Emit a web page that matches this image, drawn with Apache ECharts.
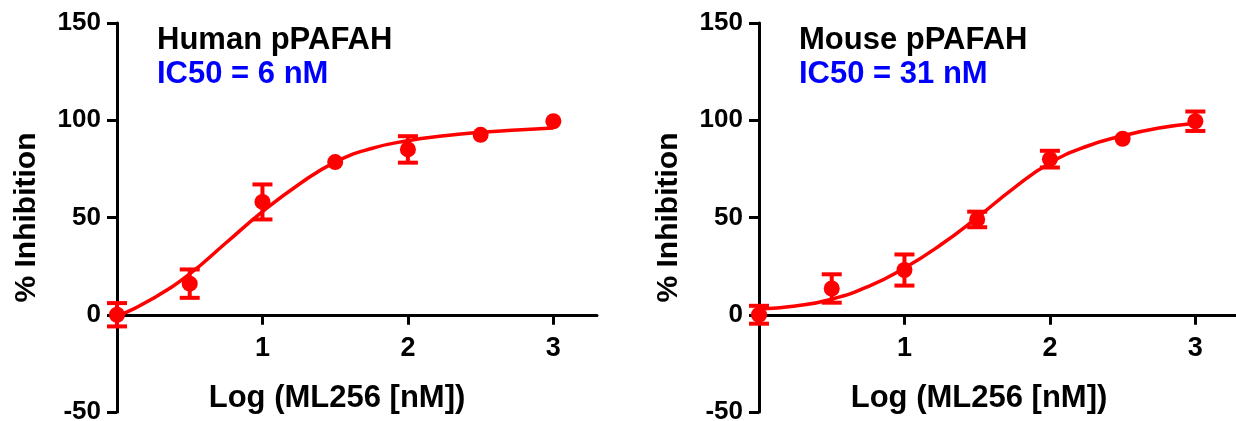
<!DOCTYPE html>
<html>
<head>
<meta charset="utf-8">
<script src="https://cdn.jsdelivr.net/npm/echarts@6/dist/echarts.min.js"></script>
<style>
html,body{margin:0;padding:0;background:#fff;}
#chart{width:1236px;height:421px;}
</style>
</head>
<body>
<div id="chart"></div>
<script>
// ---- data ----
const doseLog = [0, 0.5, 1, 1.5, 2, 2.5, 3];
const humanMean = [0, 16, 58, 78.5, 85, 92.5, 99.5];
const humanErr  = [6, 7.3, 9, 0, 6.8, 0, 0];
const mouseMean = [0, 13.5, 23, 49, 80, 90.5, 99.5];
const mouseErr  = [4.6, 7.3, 8, 4, 4.3, 0, 5];

const curveX     = [0, 0.25, 0.5, 0.75, 1, 1.25, 1.5, 1.75, 2, 2.25, 2.5, 2.75, 3];
const humanCurve = [-1, 8.5, 21, 37, 53, 67, 78.5, 85.5, 89.5, 92, 93.8, 95, 96];
const mouseCurve = [3, 4.5, 8, 14.5, 24, 36, 50, 65, 78, 86.5, 92, 96, 98.5];

const yTicks = [-50, 0, 50, 100, 150];
const xTicks = [1, 2, 3];

const panelTitles = ['Human pPAFAH', 'Mouse pPAFAH'];
const panelIC50 = ['IC50 = 6 nM', 'IC50 = 31 nM'];
const xName = 'Log (ML256 [nM])';
const yName = '% Inhibition';

// ---- chart ----
const RED = '#ff0000';
const FONT = '"Liberation Sans", Arial, sans-serif';
const chart = echarts.init(document.getElementById('chart'), null, {renderer: 'canvas'});

function errorRender(params, api) {
  const x = api.value(0), y = api.value(1), e = api.value(2);
  if (!e) return null;
  const t = api.coord([x, y + e]);
  const b = api.coord([x, y - e]);
  const hw = 10;
  const st = {stroke: RED, lineWidth: 4};
  return {type: 'group', children: [
    {type: 'line', shape: {x1: t[0], y1: t[1], x2: b[0], y2: b[1]}, style: st},
    {type: 'line', shape: {x1: t[0] - hw, y1: t[1], x2: t[0] + hw, y2: t[1]}, style: st},
    {type: 'line', shape: {x1: b[0] - hw, y1: b[1], x2: b[0] + hw, y2: b[1]}, style: st}
  ]};
}

const Y_MIN = -50, Y_MAX = 150;
const GRID_TOP = 23, GRID_H = 389;
const zeroOffset = -GRID_H * (0 - Y_MIN) / (Y_MAX - Y_MIN); // move x axis up to y = 0

const lefts = [117, 759];
const grids = lefts.map(l => ({left: l, top: GRID_TOP, width: 480, height: GRID_H, containLabel: false, outerBoundsMode: 'none'}));

const xAxes = [0, 1].map(i => ({
  type: 'value', gridIndex: i, min: 0, max: 3.3, interval: 1,
  position: 'bottom', offset: zeroOffset,
  splitLine: {show: false},
  axisLine: {onZero: false, lineStyle: {color: '#000', width: 3}},
  axisTick: {show: true, length: 10, lineStyle: {color: '#000', width: 3}, customValues: xTicks},
  axisLabel: {customValues: xTicks, color: '#000', fontSize: 27, fontWeight: 'bold', fontFamily: FONT, margin: 20},
  name: xName, nameLocation: 'middle', nameGap: 68,
  nameTextStyle: {color: '#000', fontSize: 31, fontWeight: 'bold', fontFamily: FONT, padding: [0, 40, 0, 0]}
}));

const yAxes = [0, 1].map(i => ({
  type: 'value', gridIndex: i, min: Y_MIN, max: Y_MAX, interval: 50,
  splitLine: {show: false},
  axisLine: {onZero: false, lineStyle: {color: '#000', width: 3}},
  axisTick: {show: true, length: 10, lineStyle: {color: '#000', width: 3}, customValues: yTicks},
  axisLabel: {customValues: yTicks, color: '#000', fontSize: 26, fontWeight: 'bold', fontFamily: FONT, margin: 16},
  name: yName, nameLocation: 'middle', nameGap: 75, nameRotate: 90,
  nameTextStyle: {color: '#000', fontSize: 30, fontWeight: 'bold', fontFamily: FONT}
}));

const titles = [0, 1].map(i => ({
  text: panelTitles[i], subtext: panelIC50[i],
  left: lefts[i] + 40, top: 25, itemGap: 3, padding: 0,
  textStyle: {color: '#000', fontSize: 31, fontWeight: 'bold', fontFamily: FONT},
  subtextStyle: {color: '#0000ff', fontSize: 31, fontWeight: 'bold', fontFamily: FONT}
}));

const means = [humanMean, mouseMean];
const errs = [humanErr, mouseErr];
const curves = [humanCurve, mouseCurve];
const series = [];
[0, 1].forEach(i => {
  series.push({
    type: 'line', xAxisIndex: i, yAxisIndex: i, smooth: 0.5, showSymbol: false, silent: true,
    lineStyle: {color: RED, width: 3.5},
    data: curveX.map((x, k) => [x, curves[i][k]]), z: 2
  });
  series.push({
    type: 'custom', xAxisIndex: i, yAxisIndex: i, renderItem: errorRender, silent: true,
    data: doseLog.map((x, k) => [x, means[i][k], errs[i][k]]), z: 3
  });
  series.push({
    type: 'scatter', xAxisIndex: i, yAxisIndex: i, symbol: 'circle', symbolSize: 16, silent: true,
    itemStyle: {color: RED, opacity: 1}, data: doseLog.map((x, k) => [x, means[i][k]]), z: 4
  });
});

chart.setOption({
  animation: false,
  backgroundColor: '#fff',
  title: titles,
  grid: grids,
  xAxis: xAxes,
  yAxis: yAxes,
  series: series
});
</script>
</body>
</html>
